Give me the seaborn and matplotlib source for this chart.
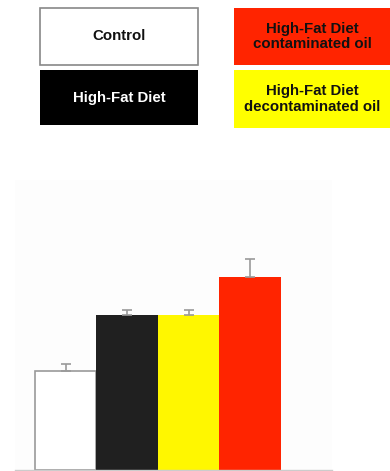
import matplotlib
matplotlib.use("Agg")
import matplotlib.pyplot as plt
import seaborn as sns
import pandas as pd
from matplotlib.patches import Rectangle

groups = ["Control", "High-Fat Diet", "High-Fat Diet\ndecontaminated oil", "High-Fat Diet\ncontaminated oil"]
values = [1.00, 1.57, 1.57, 1.95]
errors = [0.07, 0.05, 0.05, 0.18]
bar_colors = ["#ffffff", "#202020", "#fff700", "#ff2400"]
box_colors = ["#ffffff", "#000000", "#ffff00", "#ff2400"]
text_colors = ["#111111", "#ffffff", "#111111", "#111111"]

sns.set_style("white")
plt.rcParams["font.family"] = ["Liberation Sans", "DejaVu Sans"]

df = pd.DataFrame({"group": groups, "value": values})

fig = plt.figure(figsize=(3.9, 4.71), dpi=100)
W, H = 390, 471
ax = fig.add_axes([15 / W, 1 / H, 317 / W, 290 / H])
ax.set_facecolor("#fdfdfd")

sns.barplot(df, x="group", y="value", hue="group", palette=bar_colors, order=groups,
            hue_order=groups, width=1.0, legend=False, errorbar=None, ax=ax,
            saturation=1, edgecolor="none", linewidth=0)
ax.patches[0].set_edgecolor("#9a9a9a")
ax.patches[0].set_linewidth(1.2)
ax.errorbar(range(len(groups)), values, yerr=[[0] * 4, errors], fmt="none",
            ecolor="#9a9a9a", elinewidth=1.2, capsize=3.5, capthick=1.2)

ax.set_xlim(-0.825, 4.33)
ax.set_ylim(0, 2.93)
ax.set_xticks([])
ax.set_yticks([])
ax.set_xlabel("")
ax.set_ylabel("")
for s in ["top", "right", "left"]:
    ax.spines[s].set_visible(False)
ax.spines["bottom"].set_color("#cccccc")
ax.spines["bottom"].set_linewidth(1)

# legend boxes (pixel boxes, top-left origin)
boxes = [(40, 8, 158, 57), (40, 70, 158, 55), (234, 70, 156, 58), (234, 8, 156, 57)]
for i, (x, y, w, h) in enumerate(boxes):
    edge = "#888888" if i == 0 else "none"
    fig.add_artist(Rectangle((x / W, 1 - (y + h) / H), w / W, h / H,
                             transform=fig.transFigure, facecolor=box_colors[i],
                             edgecolor=edge, linewidth=1.2))
    fig.text((x + w / 2) / W, 1 - (y + h / 2) / H, groups[i], ha="center", va="center",
             fontsize=10.8, fontweight="bold", color=text_colors[i], linespacing=1.1)

fig.savefig("out.png", dpi=100)
